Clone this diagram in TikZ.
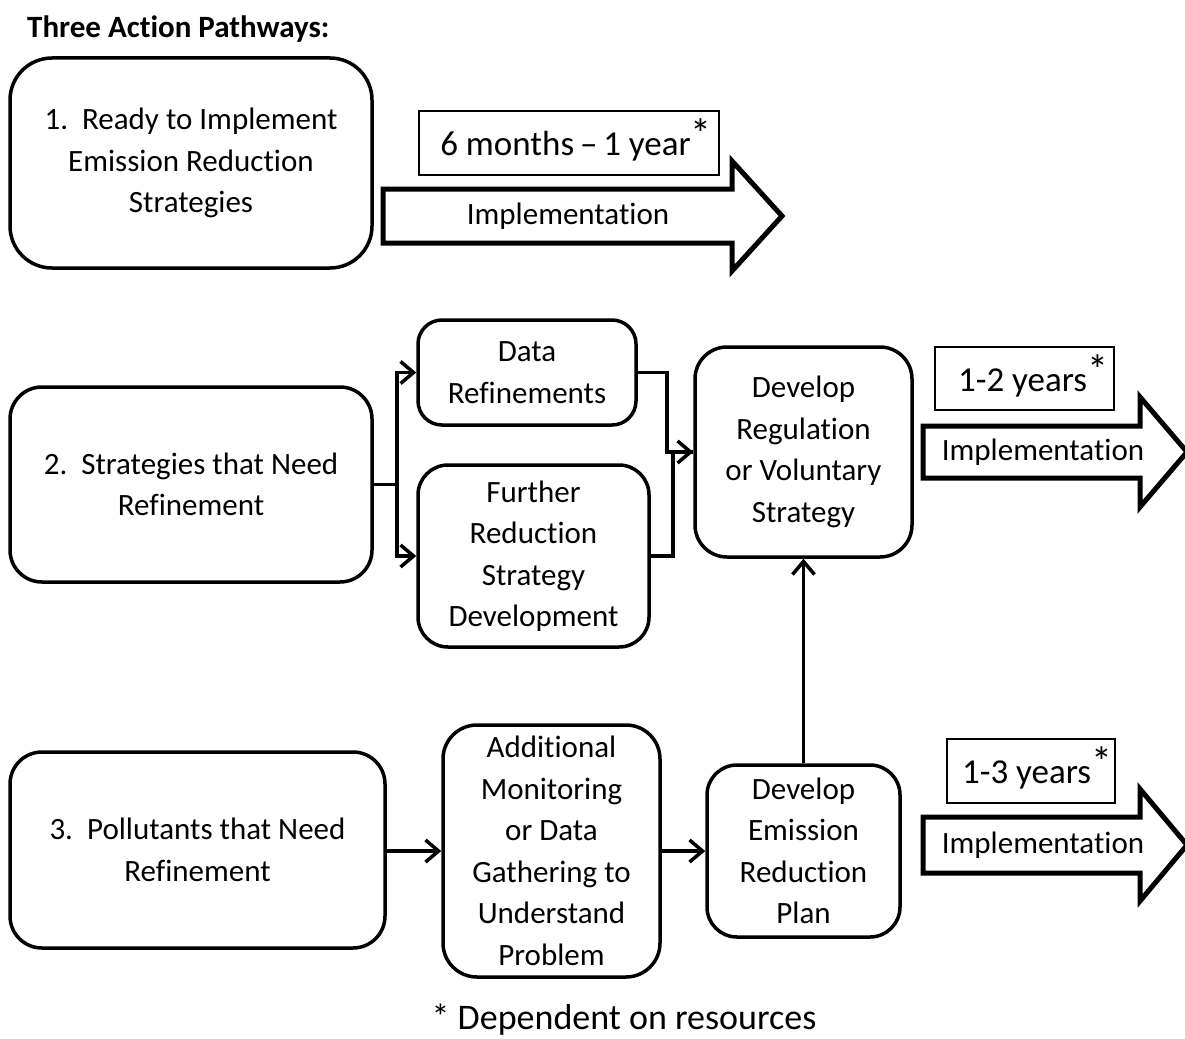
\documentclass[tikz,border=0pt]{standalone}
\usepackage{fontspec}
\setmainfont{Carlito}[Ligatures={NoCommon,TeX}]
\usetikzlibrary{arrows.meta}
\newcommand\myast{\raisebox{0.22em}{\fontsize{42pt}{42pt}\selectfont *}}
\begin{document}
\begin{tikzpicture}[x=1pt,y=-1pt,
  rbox/.style={draw, line width=3.5pt, rounded corners=32pt, align=center, inner sep=2pt,
    font=\fontsize{31pt}{41.5pt}\selectfont},
  lbox/.style={draw, line width=1.3pt, align=center, inner sep=0pt,
    font=\fontsize{35pt}{42pt}\selectfont},
  txt/.style={align=center, inner sep=0pt, font=\fontsize{31pt}{41.5pt}\selectfont},
  bigarrow/.style={draw, line width=5pt, line join=miter, fill=white},
  conn/.style={line width=3.5pt, -{Straight Barb[length=13pt,width=22pt]}},
  plain/.style={line width=3.5pt}
]
\useasboundingbox (0,0) rectangle (1185,1038);

\node[anchor=west, inner sep=0pt, font=\bfseries\fontsize{31pt}{36pt}\selectfont] (title) at (27,29) {Three Action Pathways:};

% pathway 1
\node[rbox, rounded corners=42pt, minimum width=362pt, minimum height=210pt] (b1) at (191,163)
  {1.\ \ Ready to Implement\\Emission Reduction\\Strategies};
\draw[bigarrow] (383,189) -- (732,189) -- (732,161) -- (782,216) -- (732,271) -- (732,243) -- (383,243) -- cycle;
\node[txt] (impl1) at (568,216) {Implementation};
\node[lbox, minimum width=300pt, minimum height=64pt] (l1) at (569,143) {};
\node[txt, font=\fontsize{35pt}{42pt}\selectfont] (l1t) at (576,140) {6 months\,–\,1 year\myast};

% pathway 2
\node[rbox, minimum width=362pt, minimum height=195pt] (b2) at (191,484.5)
  {2.\ \ Strategies that Need\\Refinement};
\node[rbox, rounded corners=24pt, minimum width=218pt, minimum height=105pt] (dr) at (527,372.5)
  {Data\\Refinements};
\node[rbox, rounded corners=30pt, minimum width=231pt, minimum height=182pt] (fr) at (533.5,556)
  {Further\\Reduction\\Strategy\\Development};
\node[rbox, rounded corners=32pt, minimum width=217pt, minimum height=210pt] (dev) at (803.5,452)
  {Develop\\Regulation\\or Voluntary\\Strategy};
\draw[conn] (b2.east) -- ++(23,0) |- (dr.west);
\draw[conn] (b2.east) -- ++(23,0) |- (fr.west);
\draw[plain] (dr.east) -- ++(29,0) |- (dev.west);
\draw[conn] (fr.east) -- ++(22,0) |- (dev.west);
\draw[bigarrow] (923,426) -- (1140,426) -- (1140,397) -- (1187,452) -- (1140,507) -- (1140,478) -- (923,478) -- cycle;
\node[txt] (impl2) at (1043,452) {Implementation};
\node[lbox, minimum width=179pt, minimum height=63pt] (l2) at (1024.5,378.5) {};
\node[txt, font=\fontsize{35pt}{42pt}\selectfont] (l2t) at (1033,376) {1-2 years\myast};

% pathway 3
\node[rbox, minimum width=375pt, minimum height=196pt] (b3) at (197.5,850)
  {3.\ \ Pollutants that Need\\Refinement};
\node[rbox, rounded corners=34pt, minimum width=217pt, minimum height=252pt] (add) at (551.5,851)
  {Additional\\Monitoring\\or Data\\Gathering to\\Understand\\Problem};
\node[rbox, rounded corners=30pt, minimum width=193pt, minimum height=172pt] (dep) at (803.5,851)
  {Develop\\Emission\\Reduction\\Plan};
\coordinate (r3) at (0,851);
\draw[conn] (b3.east |- r3) -- (add.west |- r3);
\draw[conn] (add.east |- r3) -- (dep.west |- r3);
\draw[conn] (dep.north) -- (dev.south);
\draw[bigarrow] (923,817) -- (1140,817) -- (1140,789) -- (1187,845) -- (1140,901) -- (1140,873) -- (923,873) -- cycle;
\node[txt] (impl3) at (1043,845) {Implementation};
\node[lbox, minimum width=168pt, minimum height=64pt] (l3) at (1031,771) {};
\node[txt, font=\fontsize{35pt}{42pt}\selectfont] (l3t) at (1037,768) {1-3 years\myast};

\node[txt, font=\fontsize{36pt}{42pt}\selectfont] (foot) at (624,1020) {* Dependent on resources};
\end{tikzpicture}
\end{document}
